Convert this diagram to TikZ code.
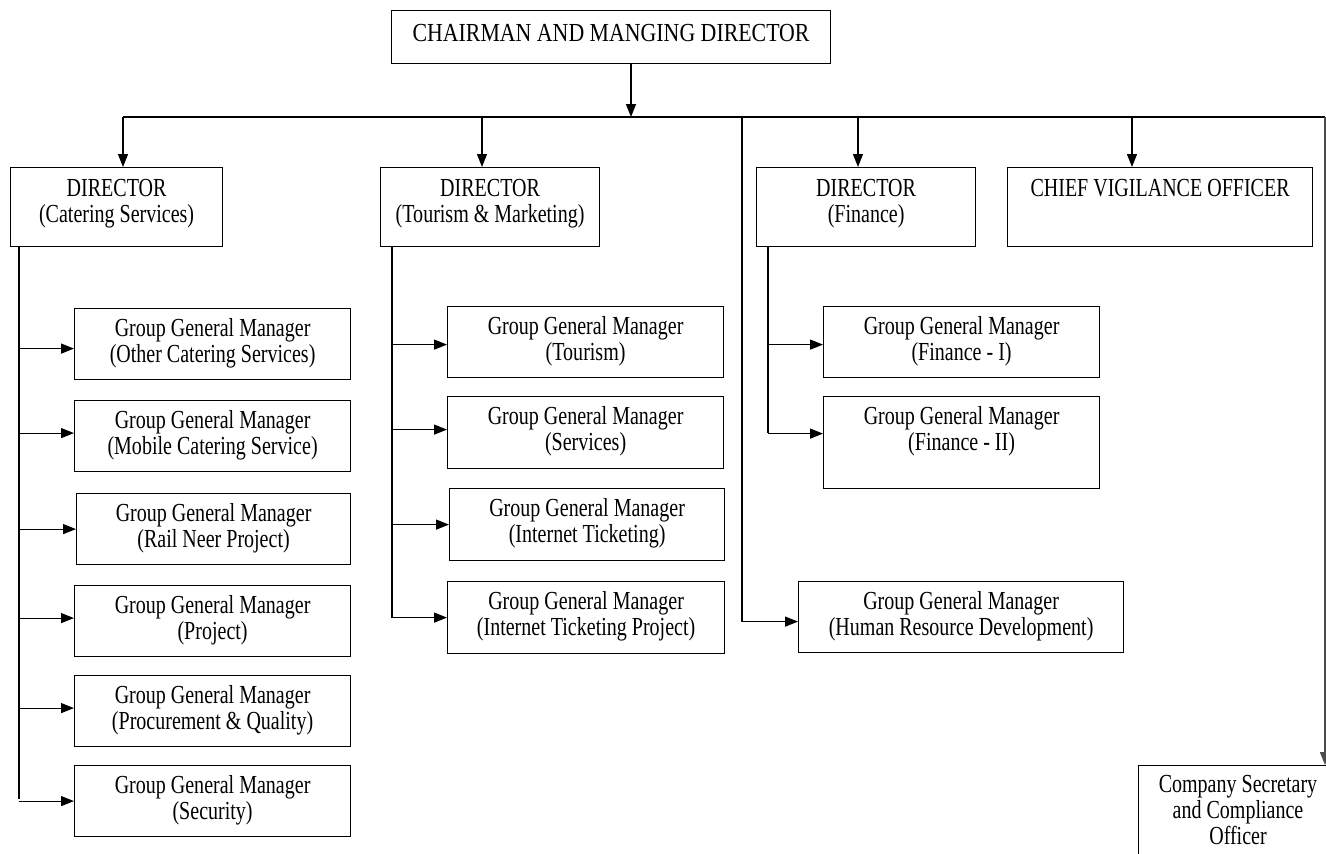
\documentclass[tikz,border=0pt]{standalone}
\usepackage{fontspec}
\setmainfont{Liberation Serif}[FakeStretch=0.77]
\usetikzlibrary{arrows.meta}
\begin{document}
\begin{tikzpicture}[x=1pt,y=-1pt,
  box/.style={draw, line width=1.2pt, inner sep=0pt, anchor=north west},
  txt/.style={font=\fontsize{26}{26}\selectfont, align=center, inner sep=0pt, anchor=north},
  con/.style={line width=1.2pt},
  arr/.style={con, -{Triangle[length=13pt,width=10pt]}}]
\useasboundingbox (0,0) rectangle (1326,854);
\fill[white] (0,0) rectangle (1326,854);

% top
\node[box, minimum width=439pt, minimum height=53pt] (cmd) at (391,10) {};
\node[txt, font=\fontsize{26}{26}\selectfont\addfontfeature{FakeStretch=0.84}] (cmdT) at ([yshift=-12.8pt]cmd.north) {\strut CHAIRMAN AND MANGING DIRECTOR};

% directors
\node[box, minimum width=212pt, minimum height=79pt] (dcs) at (10,167) {};
\node[txt] (dcsT) at ([yshift=-10.8pt]dcs.north) {\strut DIRECTOR\\(Catering Services)};
\node[box, minimum width=219pt, minimum height=79pt] (dtm) at (380,167) {};
\node[txt] (dtmT) at ([yshift=-10.8pt]dtm.north) {\strut DIRECTOR\\(Tourism \& Marketing)};
\node[box, minimum width=219pt, minimum height=79pt] (dfn) at (756,167) {};
\node[txt] (dfnT) at ([yshift=-10.8pt]dfn.north) {\strut DIRECTOR\\(Finance)};
\node[box, minimum width=305pt, minimum height=79pt] (cvo) at (1007,167) {};
\node[txt] (cvoT) at ([yshift=-10.8pt]cvo.north) {\strut CHIEF VIGILANCE OFFICER};

% left column
\node[box, minimum width=276pt, minimum height=71pt] (l1) at (74,308) {};
\node[txt] (l1T) at ([yshift=-9.8pt]l1.north) {\strut Group General Manager\\(Other Catering Services)};
\node[box, minimum width=276pt, minimum height=71pt] (l2) at (74,400) {};
\node[txt] (l2T) at ([yshift=-9.8pt]l2.north) {\strut Group General Manager\\(Mobile Catering Service)};
\node[box, minimum width=274pt, minimum height=71pt] (l3) at (76,493) {};
\node[txt] (l3T) at ([yshift=-9.8pt]l3.north) {\strut Group General Manager\\(Rail Neer Project)};
\node[box, minimum width=276pt, minimum height=71pt] (l4) at (74,585) {};
\node[txt] (l4T) at ([yshift=-9.8pt]l4.north) {\strut Group General Manager\\(Project)};
\node[box, minimum width=276pt, minimum height=71pt] (l5) at (74,675) {};
\node[txt] (l5T) at ([yshift=-9.8pt]l5.north) {\strut Group General Manager\\(Procurement \& Quality)};
\node[box, minimum width=276pt, minimum height=71pt] (l6) at (74,765) {};
\node[txt] (l6T) at ([yshift=-9.8pt]l6.north) {\strut Group General Manager\\(Security)};

% middle column
\node[box, minimum width=276pt, minimum height=71pt] (m1) at (447,306) {};
\node[txt] (m1T) at ([yshift=-9.8pt]m1.north) {\strut Group General Manager\\(Tourism)};
\node[box, minimum width=276pt, minimum height=72pt] (m2) at (447,396) {};
\node[txt] (m2T) at ([yshift=-9.8pt]m2.north) {\strut Group General Manager\\(Services)};
\node[box, minimum width=275pt, minimum height=72pt] (m3) at (449,488) {};
\node[txt] (m3T) at ([yshift=-9.8pt]m3.north) {\strut Group General Manager\\(Internet Ticketing)};
\node[box, minimum width=277pt, minimum height=72pt] (m4) at (447,581) {};
\node[txt] (m4T) at ([yshift=-9.8pt]m4.north) {\strut Group General Manager\\(Internet Ticketing Project)};

% finance column
\node[box, minimum width=276pt, minimum height=71pt] (f1) at (823,306) {};
\node[txt] (f1T) at ([yshift=-9.8pt]f1.north) {\strut Group General Manager\\(Finance - I)};
\node[box, minimum width=276pt, minimum height=92pt] (f2) at (823,396) {};
\node[txt] (f2T) at ([yshift=-9.8pt]f2.north) {\strut Group General Manager\\(Finance - II)};

% HRD
\node[box, minimum width=325pt, minimum height=71pt] (hrd) at (798,581) {};
\node[txt] (hrdT) at ([yshift=-9.8pt]hrd.north) {\strut Group General Manager\\(Human Resource Development)};

% company secretary
\node[box, minimum width=220pt, minimum height=120pt] (cso) at (1138,765) {};
\node[txt] (csoT) at (1238,774) {\strut Company Secretary\\and Compliance\\Officer};

% connector coordinates
\coordinate (top) at (631,117);
\coordinate (busL) at (123,117);
\coordinate (busR) at (1325,117);
\coordinate (hrdV) at (742,117);
\coordinate (jT) at (482,117);
\coordinate (jF) at (858,117);
\coordinate (jC) at (1132,117);
\coordinate (vL) at (19,799);
\coordinate (vM) at (392,618);
\coordinate (vF) at (768,433);

% connectors
\draw[arr] (top |- cmd.south) -- (top);
\draw[con] (busL) -- (busR);
\draw[arr] (busL) -- (busL |- dcs.north);
\draw[arr] (jT) -- (jT |- dtm.north);
\draw[arr] (jF) -- (jF |- dfn.north);
\draw[arr] (jC) -- (jC |- cvo.north);
\draw[arr, draw=black!70] (busR) -- (busR |- cso.north);

\draw[con] (vL |- dcs.south) -- (vL);
\draw[arr] ([yshift=-4.5pt]l1.west -| vL) -- ([yshift=-4.5pt]l1.west);
\draw[arr] ([yshift=3pt]l2.west -| vL) -- ([yshift=3pt]l2.west);
\draw[arr] (l3.west -| vL) -- (l3.west);
\draw[arr] ([yshift=3pt]l4.west -| vL) -- ([yshift=3pt]l4.west);
\draw[arr] ([yshift=3pt]l5.west -| vL) -- ([yshift=3pt]l5.west);
\draw[arr] (l6.west -| vL) -- (l6.west);

\draw[con] (vM |- dtm.south) -- (vM);
\draw[arr] ([yshift=-2.5pt]m1.west -| vM) -- ([yshift=-2.5pt]m1.west);
\draw[arr] ([yshift=3pt]m2.west -| vM) -- ([yshift=3pt]m2.west);
\draw[arr] (m3.west -| vM) -- (m3.west);
\draw[arr] (m4.west -| vM) -- (m4.west);

\draw[con] (vF |- dfn.south) -- (vF);
\draw[arr] ([yshift=-2.5pt]f1.west -| vF) -- ([yshift=-2.5pt]f1.west);
\draw[arr] ([yshift=9pt]f2.west -| vF) -- ([yshift=9pt]f2.west);

\draw[arr] (hrdV) |- ([yshift=-4.5pt]hrd.west);
\end{tikzpicture}
\end{document}
